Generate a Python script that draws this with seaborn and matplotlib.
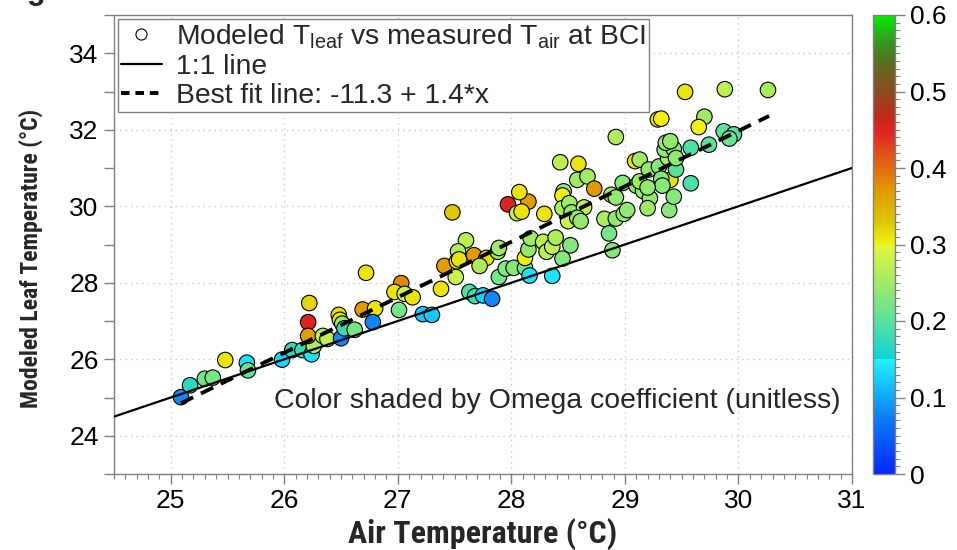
import numpy as np
import pandas as pd
import matplotlib
matplotlib.use("Agg")
import matplotlib.pyplot as plt
import seaborn as sns
from matplotlib.colors import LinearSegmentedColormap, Normalize
from matplotlib.lines import Line2D
from matplotlib.cm import ScalarMappable
from matplotlib.ticker import MultipleLocator, FuncFormatter, FixedLocator

# ---------------- data ----------------
air_temp = [25.09, 25.17, 25.30, 25.37, 25.48, 25.67, 25.68, 25.98, 26.07, 26.16,
            26.24, 26.26, 26.22, 26.21, 26.21, 26.34, 26.38, 26.50, 26.48, 26.49,
            26.51, 26.53, 26.62, 26.69, 26.80, 26.78, 26.72, 27.01, 27.03, 26.97,
            27.06, 27.13, 27.22, 27.30, 27.41, 27.38, 27.48, 27.60, 27.53, 27.52,
            27.54, 27.67, 27.51, 27.78, 27.72, 27.88, 27.89, 27.63, 27.68, 27.75,
            27.83, 27.89, 27.95, 28.02, 28.12, 28.16, 28.12, 28.15, 28.17, 28.28,
            28.31, 27.97, 28.15, 28.05, 28.09, 28.29, 28.36, 28.43, 28.07, 28.46,
            28.45, 28.45, 28.59, 28.58, 28.67, 28.73, 28.51, 28.53, 28.64, 28.50,
            28.58, 28.61, 28.82, 28.92, 28.99, 29.02, 28.86, 28.89, 28.52, 28.45,
            28.36, 28.39, 28.98, 28.88, 28.92, 29.09, 29.13, 29.10, 29.16, 29.13,
            29.22, 29.20, 29.21, 29.30, 29.38, 29.40, 29.32, 29.33, 29.39, 29.43,
            29.45, 29.35, 29.43, 29.53, 29.88, 30.26, 29.29, 29.32, 29.70, 29.65,
            29.87, 29.96, 29.92, 29.74, 29.58, 29.36, 29.40, 29.45, 29.58, 28.92,
            29.20]
leaf_temp = [25.01, 25.32, 25.49, 25.52, 25.98, 25.91, 25.71, 25.99, 26.24, 26.24,
             26.13, 26.35, 27.47, 26.97, 26.61, 26.61, 26.53, 26.55, 27.16, 27.03,
             26.93, 26.81, 26.77, 27.30, 27.33, 26.97, 28.26, 27.29, 27.99, 27.76,
             27.71, 27.62, 27.18, 27.16, 28.44, 27.84, 29.84, 29.11, 28.82, 28.56,
             28.61, 28.72, 28.15, 28.65, 28.44, 28.81, 28.91, 27.76, 27.65, 27.67,
             27.58, 28.15, 28.37, 28.39, 28.39, 28.19, 28.65, 28.87, 29.16, 29.07,
             28.81, 30.05, 30.12, 29.82, 29.86, 29.80, 28.18, 31.15, 30.37, 30.39,
             30.28, 29.95, 31.11, 30.69, 30.78, 30.46, 30.08, 29.84, 29.97, 29.61,
             29.70, 29.61, 29.67, 29.68, 29.80, 29.90, 29.29, 28.85, 28.98, 28.63,
             28.94, 29.18, 30.61, 30.30, 30.23, 31.18, 31.22, 30.54, 30.40, 30.65,
             30.21, 29.95, 30.96, 31.04, 31.26, 30.69, 30.72, 30.54, 29.90, 30.25,
             30.96, 31.48, 31.50, 32.99, 33.06, 33.04, 32.27, 32.29, 32.34, 32.07,
             31.96, 31.88, 31.77, 31.61, 31.53, 31.66, 31.70, 31.26, 30.60, 31.81,
             30.49]
omega = [0.08, 0.17, 0.22, 0.22, 0.31, 0.14, 0.21, 0.13, 0.17, 0.18,
         0.14, 0.26, 0.32, 0.45, 0.37, 0.27, 0.27, 0.08, 0.31, 0.31,
         0.24, 0.18, 0.22, 0.37, 0.31, 0.08, 0.31, 0.22, 0.38, 0.31,
         0.28, 0.31, 0.12, 0.12, 0.37, 0.31, 0.33, 0.27, 0.26, 0.31,
         0.31, 0.37, 0.28, 0.31, 0.26, 0.25, 0.25, 0.19, 0.18, 0.13,
         0.08, 0.22, 0.23, 0.23, 0.22, 0.14, 0.30, 0.24, 0.25, 0.27,
         0.27, 0.45, 0.37, 0.27, 0.31, 0.31, 0.14, 0.27, 0.31, 0.24,
         0.30, 0.26, 0.31, 0.25, 0.25, 0.37, 0.25, 0.24, 0.27, 0.28,
         0.24, 0.24, 0.26, 0.24, 0.24, 0.24, 0.22, 0.23, 0.23, 0.23,
         0.27, 0.26, 0.23, 0.25, 0.24, 0.31, 0.25, 0.24, 0.24, 0.25,
         0.24, 0.25, 0.24, 0.23, 0.26, 0.31, 0.23, 0.23, 0.23, 0.23,
         0.20, 0.23, 0.23, 0.31, 0.27, 0.26, 0.31, 0.30, 0.25, 0.30,
         0.20, 0.20, 0.21, 0.20, 0.19, 0.24, 0.24, 0.24, 0.19, 0.26,
         0.24]

# drawn best-fit line (as it appears in the figure) and its x extent
fit_intercept = -11.53
fit_slope = 1.45
fit_xrange = [25.09, 30.27]
one_to_one_x = [24.5, 31.0]

legend_labels = ["Modeled T$_{\\mathrm{leaf}}$ vs measured T$_{\\mathrm{air}}$ at BCI",
                 "1:1 line",
                 "Best fit line: -11.3 + 1.4*x"]
annotation = "Color shaded by Omega coefficient (unitless)"
x_ticks = [25, 26, 27, 28, 29, 30, 31]
y_ticks = [24, 26, 28, 30, 32, 34]
cbar_ticks = [0, 0.1, 0.2, 0.3, 0.4, 0.5, 0.6]

df = pd.DataFrame({"air": air_temp, "leaf": leaf_temp, "omega": omega})

# ---------------- styling ----------------
sns.set_theme(style="white")
plt.rcParams["font.family"] = ["Liberation Sans", "DejaVu Sans"]
plt.rcParams["mathtext.fontset"] = "custom"
plt.rcParams["mathtext.rm"] = "Liberation Sans"
plt.rcParams["mathtext.it"] = "Liberation Sans:italic"

cmap = LinearSegmentedColormap.from_list("omega", [
    (0.0, "#0428ff"),
    (0.12, "#0c7cf4"),
    (0.2499, "#1ef4ff"),
    (0.25, "#0cd2d8"),
    (0.333, "#5ae29c"),
    (0.42, "#a4ea62"),
    (0.4999, "#e4f83c"),
    (0.5, "#f2f212"),
    (0.55, "#dcc800"),
    (0.617, "#e09a00"),
    (0.667, "#e06c12"),
    (0.75, "#e02222"),
    (0.78, "#c02a18"),
    (0.833, "#8c4a20"),
    (0.90, "#5a7020"),
    (0.95, "#30a020"),
    (1.0, "#00ee00"),
])
norm = Normalize(0, 0.6)

W, H = 957, 550
fig = plt.figure(figsize=(W / 100, H / 100), dpi=100)
ax = fig.add_axes([114 / W, 1 - 474 / H, (852 - 114) / W, (474 - 15) / H])
cax = fig.add_axes([873 / W, 1 - 474 / H, 22 / W, (474 - 15) / H])

sns.scatterplot(data=df, x="air", y="leaf", hue="omega", palette=cmap,
                hue_norm=norm, s=125, edgecolor="black", linewidth=0.8,
                legend=False, ax=ax, zorder=2)

ax.plot(one_to_one_x, one_to_one_x, color="black", lw=1.6, zorder=3)
fx = np.array(fit_xrange)
ax.plot(fx, fit_intercept + fit_slope * fx, color="black", lw=2.8,
        dashes=(3.5, 2.2), zorder=3)

ax.set_xlim(24.5, 31)
ax.set_ylim(23, 35)
ax.xaxis.set_major_locator(FixedLocator(x_ticks))
ax.xaxis.set_minor_locator(MultipleLocator(0.1))
ax.yaxis.set_major_locator(FixedLocator(y_ticks))
ax.yaxis.set_minor_locator(FixedLocator([23, 25, 27, 29, 31, 33, 35]))
ax.tick_params(axis="both", which="major", labelsize=19, colors="#808080",
               labelcolor="black", length=7, width=1, direction="out", pad=4)
ax.tick_params(axis="x", which="minor", length=3.5, width=0.8, colors="#808080",
               direction="out")
ax.tick_params(axis="y", which="minor", length=7, width=1, colors="#808080",
               direction="out")
ax.tick_params(top=False, right=False, bottom=True, left=True)
ax.tick_params(axis="x", which="minor", bottom=True)
ax.tick_params(axis="y", which="minor", left=True)
ax.grid(True, which="major", color="#c8c8c8", linestyle=(0, (1, 3)), lw=1)
for s in ax.spines.values():
    s.set_color("#808080")
    s.set_linewidth(1)

lab_font = ["Liberation Sans Narrow", "Roboto Condensed", "DejaVu Sans Condensed",
            "Liberation Sans", "DejaVu Sans"]
ax.set_xlabel("Air Temperature (°C)", fontsize=23, fontweight="bold",
              family=lab_font)
ax.set_ylabel("Modeled Leaf Temperature (°C)", fontsize=17, fontweight="bold",
              family=lab_font)
ax.xaxis.set_label_coords(0.5, -0.095)
ax.yaxis.set_label_coords(-0.096, 0.47)

ax.text(0.985, 0.159, annotation, transform=ax.transAxes, ha="right", va="center",
        fontsize=20.4)

handles = [
    Line2D([], [], marker="o", linestyle="none", markerfacecolor="white",
           markeredgecolor="black", markersize=8, markeredgewidth=0.8),
    Line2D([], [], color="black", lw=1.6),
    Line2D([], [], color="black", lw=2.8, dashes=(2.2, 1.5)),
]
leg = ax.legend(handles, legend_labels, loc="upper left", fontsize=20.3,
                frameon=True, fancybox=False, framealpha=1, edgecolor="#808080",
                borderaxespad=0.15, borderpad=0.1, labelspacing=0.12,
                handlelength=1.45, handletextpad=0.5)
leg.get_frame().set_linewidth(1)
leg.set_zorder(5)

# colorbar
cb = fig.colorbar(ScalarMappable(norm=norm, cmap=cmap), cax=cax)
cb.set_ticks(cbar_ticks)
cb.ax.yaxis.set_major_formatter(FuncFormatter(lambda v, p: f"{v:g}"))
cb.ax.yaxis.set_minor_locator(MultipleLocator(0.01))
cb.ax.tick_params(which="major", labelsize=19, length=7, width=1,
                  colors="#808080", labelcolor="black", pad=4)
cb.ax.tick_params(which="minor", length=3.5, width=0.8, colors="#808080")
cb.outline.set_edgecolor("#808080")
cb.outline.set_linewidth(1)

# cropped figure caption at the very top (only its lowest pixels are visible)
fig.text(0.0, 1 + 0.5 / H, "Figure 3b", fontsize=22, fontweight="bold",
         va="baseline", ha="left")

fig.savefig("out.png", dpi=100)
